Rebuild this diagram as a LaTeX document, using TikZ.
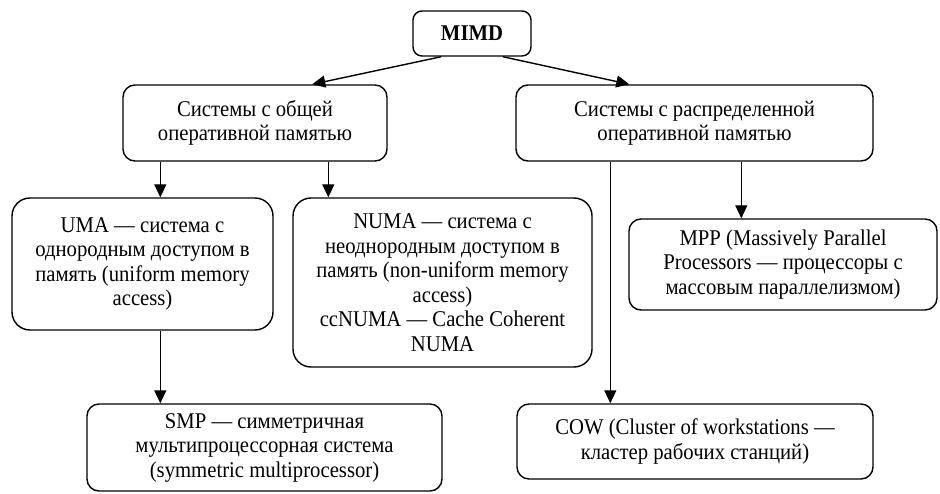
\documentclass[tikz,border=0pt]{standalone}
\usepackage{fontspec}
\setmainfont[FakeStretch=0.92]{Liberation Serif}
\usetikzlibrary{arrows.meta}

\tikzset{
  box/.style={draw, line width=1.4pt, rounded corners=12pt, inner sep=0pt,
    align=center, font=\fontsize{22.5}{24.5}\selectfont},
  bigbox/.style={box, rounded corners=18pt},
  arr/.style={line width=1.4pt, -{Triangle[length=13pt,width=12pt]}}
}

\begin{document}
\begin{tikzpicture}[x=1pt, y=-1pt]
  \useasboundingbox (0,0) rectangle (940,494);

  % root
  \node[box, rounded corners=9pt, minimum width=118pt, minimum height=45pt,
        font=\fontsize{22.5}{24.5}\selectfont\bfseries] (M) at (472,33.5) {MIMD};

  % memory organisation
  \node[box, minimum width=264pt, minimum height=76pt] (L) at (255,123)
    {Системы с общей\\оперативной памятью};
  \node[box, minimum width=357pt, minimum height=76pt] (R) at (694.5,123)
    {Системы с распределенной\\оперативной памятью};

  % shared memory classes
  \node[bigbox, minimum width=261pt, minimum height=132pt] (U) at (142.5,264)
    {UMA — система с\\однородным доступом в\\память (uniform memory\\access)};
  \node[bigbox, minimum width=299pt, minimum height=169pt] (N) at (442.5,282.5)
    {NUMA — система с\\неоднородным доступом в\\память (non-uniform memory\\access)\\ccNUMA — Cache Coherent\\NUMA};

  % distributed memory classes
  \node[box, minimum width=308pt, minimum height=91pt] (P) at (783,264.5)
    {MPP (Massively Parallel\\Processors — процессоры с\\массовым параллелизмом)};
  \node[box, minimum width=356pt, minimum height=75pt] (C) at (695,441.5)
    {COW (Cluster of workstations —\\кластер рабочих станций)};

  % SMP
  \node[box, minimum width=355pt, minimum height=87pt] (S) at (264.5,447.5)
    {SMP — симметричная\\мультипроцессорная система\\(symmetric multiprocessor)};

  % connectors
  \draw[arr] ([xshift=29pt]M.south west) -- ([xshift=190pt]L.north west);
  \draw[arr] ([xshift=-29pt]M.south east) -- ([xshift=114pt]R.north west);

  \draw[arr] ([xshift=38pt]L.south west) -- ([xshift=38pt]L.south west |- U.north);
  \draw[arr] ([xshift=206pt]L.south west) -- ([xshift=206pt]L.south west |- N.north);

  \draw[arr] ([xshift=95pt]R.south west) -- ([xshift=95pt]R.south west |- C.north);
  \draw[arr] ([xshift=226pt]R.south west) -- ([xshift=226pt]R.south west |- P.north);

  \draw[arr] ([xshift=149pt]U.south west) -- ([xshift=149pt]U.south west |- S.north);
\end{tikzpicture}
\end{document}
